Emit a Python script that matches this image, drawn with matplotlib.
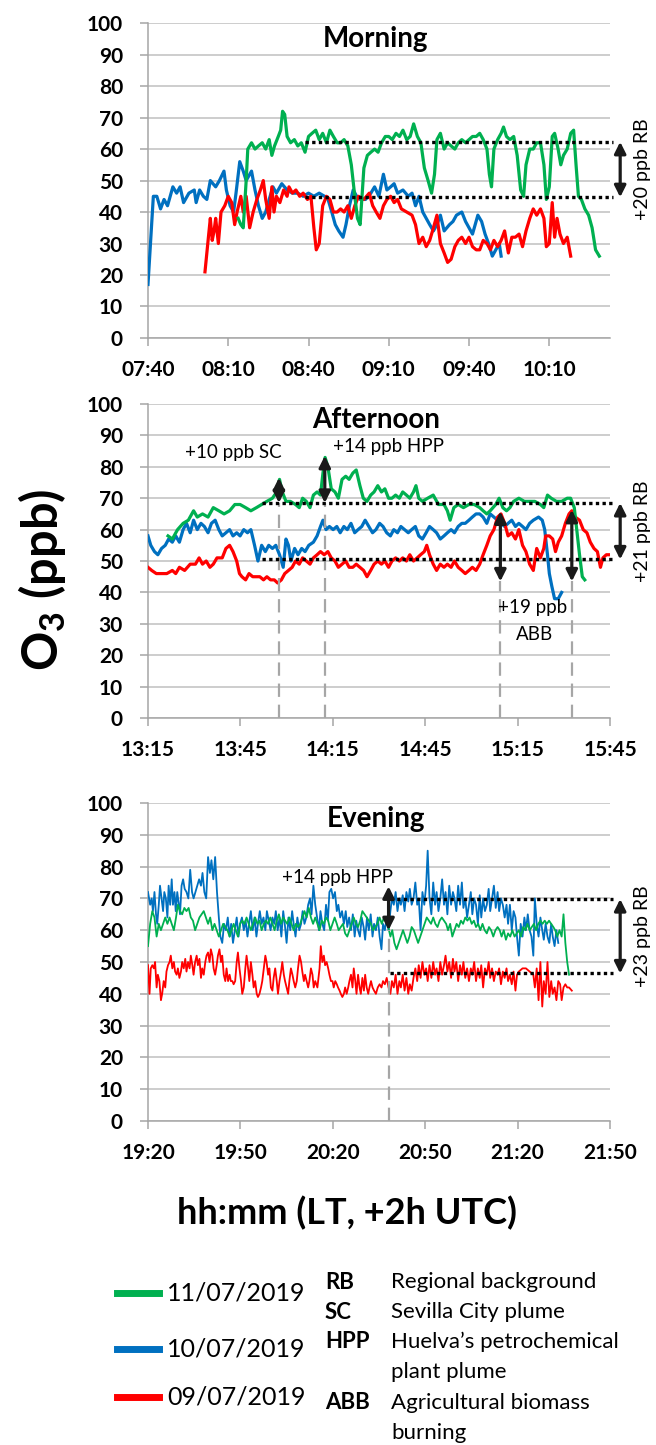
import matplotlib
matplotlib.use("Agg")
import matplotlib.pyplot as plt
from matplotlib import transforms
from matplotlib.lines import Line2D

plt.rcParams['font.family'] = ['Lato', 'DejaVu Sans']
plt.rcParams['mathtext.fontset'] = 'custom'
plt.rcParams['mathtext.rm'] = 'Lato'
plt.rcParams['mathtext.bf'] = 'Lato:bold'

GREEN = '#00B050'
BLUE = '#0070C0'
RED = '#FF0000'

# ---------------- Morning (minutes after 07:40) ----------------
mor_t_blue = [0, 2, 3.3, 4.7, 6, 7.3, 9.3, 10.7, 12, 13.3, 15.3, 17.3, 18, 19.3, 20.7, 22, 23.3, 25.3, 26.7, 28.4,
              29.3, 30.7, 32, 32.9, 34.3, 35.6, 36.7, 38.7, 40, 41.3, 42.7, 44, 45.3, 46.7, 48, 50, 52, 54, 56, 58,
              60, 62, 64, 66, 67.3, 68.7, 70, 71.3, 72.9, 74, 75.3, 76.7, 78, 79.3, 81.3, 83.3, 84.7, 86.3, 88, 89.3,
              90.7, 92, 93.3, 95.3, 97.3, 98.7, 100, 101.3, 102.7, 104, 105.3, 106.7, 108, 109.3, 110.7, 112.7, 114,
              115.3, 117.3, 118.7, 120, 121.3, 123.3, 124.7, 126, 127.3, 128.7, 130, 131.3, 132]
mor_o3_blue = [17, 45, 45, 41, 44, 42, 48, 46, 48, 43, 46, 47, 43, 47, 45, 44, 50, 48, 50, 53,
               47, 42, 40, 46, 56, 53, 50, 53, 47, 42, 38, 40, 44, 48, 46, 49, 47, 46, 46, 45,
               46, 45, 46, 45, 44, 40, 36, 34, 32, 36, 42, 47, 45, 44, 44, 46, 48, 45, 52, 47,
               48, 49, 46, 47, 45, 46, 42, 45, 40, 38, 36, 34, 36, 39, 34, 36, 37, 39, 40, 37,
               35, 33, 39, 37, 33, 30, 26, 28, 30, 26]

mor_t_red = [21.3, 22.7, 23.3, 24, 24.7, 25.3, 26.3, 27.3, 28.7, 30, 31.3, 32.4, 33.3, 34.7, 35.6, 36.7, 38, 39.3,
             40.7, 42, 43.1, 44, 45.3, 46.3, 47.1, 48, 49.3, 50.7, 52, 52.7, 54, 55.3, 56.7, 58, 59.6, 60.9, 62,
             62.9, 64, 65.3, 66.7, 68, 69.3, 70.7, 72, 73.3, 74.7, 76, 77.3, 78.7, 80.7, 82.7, 84, 85.3, 86.7, 88,
             89.3, 90.7, 92, 93.3, 94.7, 96.7, 98.7, 100, 101.3, 102.7, 104, 105.3, 106.7, 108, 109.3, 110.7, 112,
             113.3, 114.7, 116, 117.3, 118.7, 120, 121.3, 122.7, 124, 125.3, 126.7, 128, 129.3, 130.7, 132, 133.3,
             134.7, 136, 137.3, 138.7, 140, 141.3, 142.7, 144, 145.3, 146.7, 148, 148.9, 150, 151.1, 152, 152.9,
             154, 155.3, 156.7, 158]
mor_o3_red = [21, 33, 38, 31, 34, 38, 30, 40, 42, 45, 43, 36, 40, 45, 40, 45, 35, 40, 44, 47,
              50, 44, 38, 48, 40, 45, 43, 47, 45, 48, 46, 47, 45, 46, 44, 45, 35, 28, 30, 42,
              45, 44, 40, 40, 41, 40, 42, 38, 42, 45, 44, 46, 42, 40, 38, 42, 44, 45, 43, 44,
              41, 40, 39, 36, 30, 32, 29, 31, 35, 39, 30, 27, 24, 25, 29, 31, 32, 30, 32, 29,
              28, 28, 31, 30, 28, 31, 29, 31, 34, 27, 32, 32, 33, 29, 34, 38, 41, 39, 41, 38,
              29, 30, 43, 32, 38, 33, 30, 32, 26]

mor_t_green = [33.7, 34.7, 35.6, 36.7, 37.3, 38.7, 40, 41.3, 42.7, 44, 45.3, 46.3, 47.3, 48.7, 49.6, 50.3, 51.1, 52,
               53.3, 54.7, 56, 57.3, 58.7, 60, 61.3, 62.7, 64, 65.3, 66.7, 68, 69.3, 70.7, 72, 73.3, 74.7, 76, 77.3,
               78.3, 79.3, 80, 80.7, 82, 83.3, 84.7, 86, 87.3, 88.7, 90, 91.3, 92.7, 94, 95.3, 96.7, 98, 99.3, 100.7,
               102, 103.3, 104.7, 106, 107.1, 108, 109.3, 110.7, 112, 113.3, 114.7, 116, 117.3, 118.7, 120, 121.3,
               122.7, 124, 125.3, 126.7, 127.6, 128.4, 129.3, 130.7, 132, 132.9, 134, 135.3, 136.7, 138, 139.3,
               140.4, 141.3, 142.7, 144, 145.3, 146.7, 148, 148.9, 150, 151.1, 152, 153.3, 154.3, 155.3, 156.7, 158,
               159.1, 160, 160.9, 162, 163.3, 164.7, 166, 167.3, 168.7]
mor_o3_green = [38, 36, 35, 50, 60, 62, 60, 61, 62, 60, 63, 58, 61, 64, 66, 72, 71, 64, 62, 63,
                61, 62, 59, 64, 65, 66, 63, 65, 62, 66, 64, 62, 62, 63, 61, 55, 45, 38, 36, 45,
                54, 58, 59, 60, 59, 62, 64, 64, 63, 65, 64, 66, 63, 64, 68, 64, 62, 54, 50, 46,
                52, 63, 65, 60, 62, 61, 60, 62, 63, 62, 63, 64, 64, 65, 63, 60, 52, 48, 60, 63,
                65, 67, 64, 63, 64, 58, 47, 45, 55, 60, 60, 62, 62, 55, 44, 48, 64, 65, 60, 55,
                58, 60, 65, 66, 55, 45, 44, 41, 39, 35, 28, 26]

# ---------------- Afternoon (minutes after 13:15) ----------------
aft_t_green = [6.5, 7.9, 9.6, 11.4, 13.1, 14.8, 16, 17.7, 19.5, 21.2, 23, 24.7, 26.5, 28.2, 29.9, 31.7, 33.4, 35.2,
               36.9, 38.6, 40.4, 41.8, 42.7, 43.6, 44.8, 46.2, 47.9, 49.1, 50.2, 51.4, 52.6, 53.7, 54.9, 56, 56.8,
               57.5, 58.4, 59.5, 60.7, 61.8, 63, 64.2, 65.3, 66.5, 67.6, 68.8, 69.9, 71.1, 72.3, 73.4, 74.6, 75.8,
               76.9, 78.1, 79.2, 80.4, 81.6, 82.7, 83.9, 85, 86.2, 87, 87.9, 89.1, 90.8, 92.6, 94.3, 96.1, 97.2,
               98.1, 99.3, 100.7, 102.4, 104.2, 105.9, 107.7, 108.8, 110, 111.1, 112.9, 114, 115.2, 116.4, 117.5,
               118.7, 120.4, 122.2, 123.9, 125.6, 127.4, 128.5, 129.7, 130.9, 132.6, 134.3, 136.1, 137.2, 138.4,
               139.2, 140.1, 141, 141.8]
aft_o3_green = [58, 57, 60, 62, 63, 66, 64, 65, 64, 67, 66, 65, 66, 68, 68, 67, 66, 67, 68, 69,
                70, 72, 76, 72, 69, 69, 68, 67, 70, 69, 67, 71, 72, 71, 78, 83, 80, 73, 72, 70,
                76, 77, 76, 78, 79, 74, 70, 69, 71, 72, 74, 72, 73, 70, 70, 71, 70, 72, 71, 70,
                72, 74, 70, 69, 70, 71, 68, 68, 66, 63, 67, 68, 67, 68, 68, 67, 66, 65, 66, 68,
                70, 67, 66, 67, 69, 70, 69, 69, 69, 68, 67, 71, 70, 69, 69, 70, 70, 67, 60, 52,
                45, 44]

aft_t_blue = [0, 0.9, 2.1, 3.2, 4.4, 5.6, 6.7, 7.9, 9.0, 10.2, 11.4, 12.5, 13.7, 14.8, 16.0, 17.2, 18.3, 19.5,
              20.6, 21.8, 23.0, 24.1, 25.3, 26.5, 27.6, 28.8, 29.9, 31.1, 32.3, 33.4, 34.6, 35.7, 36.9, 38.1, 39.2,
              40.4, 41.5, 42.7, 43.9, 44.8, 45.6, 46.4, 47.6, 48.7, 49.9, 51.0, 52.2, 53.7, 54.9, 56.0, 56.8, 57.8,
              58.9, 60.1, 61.3, 62.4, 63.6, 64.7, 65.9, 67.1, 68.2, 69.4, 70.5, 71.7, 72.9, 74.0, 75.2, 76.3, 77.5,
              78.7, 79.8, 81.0, 82.1, 83.3, 84.5, 85.6, 86.8, 87.9, 89.1, 90.3, 91.4, 92.6, 93.7, 94.9, 96.1, 97.2,
              98.4, 99.5, 100.7, 101.9, 103.0, 104.2, 105.3, 106.5, 107.7, 108.8, 110.0, 111.1, 112.3, 113.5, 114.6,
              115.8, 116.9, 118.1, 119.3, 120.4, 121.6, 122.7, 123.9, 125.1, 126.8, 128.0, 128.8, 129.7, 130.3,
              131.1, 132.0, 133.2, 134.3]
aft_o3_blue = [58, 55, 53, 52, 54, 55, 57, 56, 58, 56, 60, 62, 59, 63, 60, 62, 61, 59, 62, 63,
               60, 58, 59, 60, 58, 59, 58, 60, 59, 60, 55, 50, 55, 53, 55, 54, 55, 52, 48, 57,
               55, 50, 54, 52, 54, 53, 55, 56, 58, 61, 63, 60, 61, 60, 61, 59, 61, 60, 62, 59,
               60, 61, 63, 61, 59, 60, 62, 61, 59, 58, 60, 59, 61, 60, 59, 60, 61, 58, 57, 59,
               61, 60, 59, 57, 58, 59, 60, 59, 61, 62, 62, 63, 64, 65, 65, 64, 62, 65, 64, 63,
               62, 61, 62, 63, 61, 62, 61, 60, 62, 63, 64, 63, 60, 52, 46, 42, 38, 38, 40]

aft_t_red = [0, 1.2, 2.7, 4.4, 6.1, 7.9, 9.0, 10.2, 11.9, 13.7, 15.4, 16.6, 17.7, 18.9, 20.1, 21.2, 22.4, 24.1,
             25.3, 26.5, 27.6, 28.8, 29.7, 30.5, 31.7, 32.8, 34.0, 35.2, 36.3, 37.5, 38.6, 39.8, 41.0, 42.1, 43.3,
             44.4, 45.6, 46.8, 47.9, 49.1, 50.2, 51.4, 52.6, 53.7, 54.9, 56.0, 57.2, 58.4, 59.5, 60.7, 61.8, 63.0,
             64.2, 65.3, 66.5, 67.6, 68.8, 70.0, 71.1, 72.3, 73.4, 74.6, 75.8, 76.9, 78.1, 79.2, 80.4, 81.6, 82.7,
             83.9, 85.0, 86.2, 87.4, 88.5, 89.7, 90.5, 91.4, 92.6, 93.7, 94.9, 96.1, 97.2, 98.4, 99.5, 100.7,
             101.9, 103.0, 104.2, 105.3, 106.5, 107.7, 108.8, 110.0, 111.1, 112.3, 113.5, 114.6, 115.8, 116.9,
             118.1, 119.3, 120.4, 121.6, 122.7, 123.9, 125.1, 126.2, 127.4, 128.5, 129.1, 130.3, 131.4, 132.3,
             133.2, 134.3, 135.5, 136.7, 137.6, 138.7, 140.1, 141.3, 142.5, 143.6, 144.8, 145.9, 146.9, 147.7,
             148.8, 150.0]
aft_o3_red = [48, 47, 46, 46, 46, 47, 46, 48, 47, 49, 49, 51, 49, 50, 48, 49, 51, 51, 54, 55,
              53, 50, 46, 45, 44, 46, 45, 45, 45, 44, 45, 44, 44, 43, 44, 46, 47, 48, 50, 49,
              51, 50, 49, 51, 52, 53, 52, 53, 51, 50, 48, 49, 50, 48, 48, 49, 48, 47, 45, 47,
              49, 50, 49, 50, 48, 50, 51, 50, 51, 50, 52, 50, 51, 52, 53, 55, 52, 49, 47, 49,
              48, 49, 48, 50, 48, 47, 46, 47, 48, 47, 49, 52, 55, 58, 60, 64, 65, 62, 58, 59,
              57, 60, 55, 53, 49, 47, 54, 51, 54, 58, 58, 57, 53, 56, 58, 62, 65, 66, 64, 63,
              60, 59, 56, 54, 53, 48, 51, 52, 52]

# ---------------- Evening (minutes after 19:20) ----------------
eve_t_blue = [0.0, 0.7, 1.2, 1.6, 2.1, 2.6, 3.0, 3.5, 3.9, 4.4, 4.9, 5.3, 5.8, 6.3, 6.7, 7.2, 7.7, 8.1, 8.6, 9.0,
              9.5, 10.0, 10.4, 10.9, 11.4, 11.9, 12.5, 13.1, 13.7, 14.3, 14.8, 15.4, 16.0, 16.6, 17.2, 17.7, 18.3,
              18.9, 19.5, 20.1, 20.6, 21.2, 21.8, 22.4, 23.0, 23.5, 24.1, 24.7, 25.3, 25.9, 26.5, 27.0, 27.6, 28.2,
              28.8, 29.4, 29.9, 30.5, 31.1, 31.7, 32.3, 32.8, 33.4, 34.0, 34.6, 35.2, 35.7, 36.3, 36.9, 37.5, 38.1,
              38.6, 39.2, 39.8, 40.4, 41.0, 41.5, 42.1, 42.7, 43.3, 43.9, 44.4, 45.0, 45.6, 46.2, 46.8, 47.3, 47.9,
              48.5, 49.1, 49.7, 50.2, 50.8, 51.4, 52.0, 52.6, 53.1, 53.7, 54.3, 54.9, 55.5, 56.0, 56.6, 57.2, 57.8,
              58.4, 58.9, 59.5, 60.1, 60.7, 61.3, 61.8, 62.4, 63.0, 63.6, 64.2, 64.7, 65.3, 65.9, 66.5, 67.1, 67.6,
              68.2, 68.8, 69.4, 70.0, 70.5, 71.1, 71.7, 72.3, 72.9, 73.4, 74.0, 74.6, 75.2, 75.8, 76.3, 76.9, 77.5,
              78.1, 78.7, 79.2, 79.8, 80.4, 81.0, 81.6, 82.1, 82.7, 83.3, 83.9, 84.5, 85.0, 85.6, 86.2, 86.8, 87.4,
              87.9, 88.5, 89.1, 89.7, 90.3, 90.8, 91.4, 92.0, 92.6, 93.2, 93.7, 94.3, 94.9, 95.5, 96.1, 96.6, 97.2,
              97.8, 98.4, 99.0, 99.5, 100.1, 100.7, 101.3, 101.9, 102.4, 103.0, 103.6, 104.2, 104.8, 105.3, 105.9,
              106.5, 107.1, 107.7, 108.2, 108.8, 109.4, 110.0, 110.6, 111.1, 111.7, 112.3, 112.9, 113.5, 114.0,
              114.6, 115.2, 115.8, 116.4, 116.9, 117.5, 118.1, 118.7, 119.3, 119.8, 120.4, 121.0, 121.6, 122.2,
              122.7, 123.3, 123.9, 124.5, 125.1, 125.6, 126.2, 126.8, 127.4, 128.0, 128.5, 129.1, 129.7, 130.3,
              130.9, 131.4, 132.0, 132.6, 133.2]
eve_o3_blue = [72, 68, 70, 66, 72, 65, 62, 68, 74, 70, 66, 72, 70, 64, 74, 68, 76, 68, 72, 66,
               72, 68, 65, 74, 76, 73, 72, 70, 79, 72, 70, 72, 74, 76, 74, 78, 72, 70, 83, 78,
               82, 76, 83, 72, 64, 58, 56, 62, 60, 64, 58, 62, 56, 60, 64, 58, 62, 64, 60, 63,
               58, 62, 66, 60, 64, 58, 62, 66, 62, 64, 60, 66, 63, 60, 64, 62, 66, 60, 64, 58,
               66, 62, 56, 64, 60, 66, 62, 58, 64, 60, 62, 66, 62, 64, 68, 70, 65, 74, 68, 64,
               60, 66, 62, 60, 68, 63, 72, 73, 70, 72, 66, 68, 64, 66, 62, 66, 61, 64, 60, 65,
               58, 63, 60, 58, 64, 61, 57, 64, 60, 65, 58, 62, 60, 64, 58, 54, 62, 60, 64, 60,
               66, 70, 68, 72, 66, 70, 68, 71, 66, 72, 69, 73, 68, 70, 75, 68, 70, 60, 72, 68,
               74, 85, 70, 65, 75, 68, 72, 66, 70, 76, 68, 72, 65, 74, 68, 72, 70, 66, 74, 68,
               75, 67, 70, 64, 68, 72, 65, 70, 68, 62, 71, 64, 70, 66, 68, 73, 66, 70, 74, 67,
               72, 66, 70, 68, 64, 68, 62, 68, 60, 66, 64, 58, 52, 62, 58, 64, 60, 65, 60, 58,
               52, 70, 62, 58, 64, 60, 57, 62, 58, 56, 62, 58, 55, 60, 56]

eve_t_green = [0.0, 0.7, 1.4, 2.1, 2.8, 3.5, 4.2, 4.9, 5.6, 6.3, 7.0, 7.7, 8.4, 9.1, 9.7, 10.4, 11.1, 11.8, 12.5,
               13.2, 13.9, 14.6, 15.3, 16.0, 16.7, 17.4, 18.1, 18.8, 19.5, 20.2, 20.9, 21.6, 22.3, 23.0, 23.7, 24.4,
               25.1, 25.8, 26.5, 27.1, 27.8, 28.5, 29.2, 29.9, 30.6, 31.3, 32.0, 32.7, 33.4, 34.1, 34.8, 35.5, 36.2,
               36.9, 37.6, 38.3, 39.0, 39.7, 40.4, 41.1, 41.8, 42.5, 43.2, 43.9, 44.5, 45.2, 45.9, 46.6, 47.3, 48.0,
               48.7, 49.4, 50.1, 50.8, 51.5, 52.2, 52.9, 53.6, 54.3, 55.0, 55.7, 56.4, 57.1, 57.8, 58.5, 59.2, 59.9,
               60.6, 61.3, 61.9, 62.6, 63.3, 64.0, 64.7, 65.4, 66.1, 66.8, 67.5, 68.2, 68.9, 69.6, 70.3, 71.0, 71.7,
               72.4, 73.1, 73.8, 74.5, 75.2, 75.9, 76.6, 77.3, 78.0, 78.7, 79.3, 80.0, 80.7, 81.4, 82.1, 82.8, 83.5,
               84.2, 84.9, 85.6, 86.3, 87.0, 87.7, 88.4, 89.1, 89.8, 90.5, 91.2, 91.9, 92.6, 93.3, 94.0, 94.7, 95.4,
               96.1, 96.8, 97.4, 98.1, 98.8, 99.5, 100.2, 100.9, 101.6, 102.3, 103.0, 103.7, 104.4, 105.1, 105.8,
               106.5, 107.2, 107.9, 108.6, 109.3, 110.0, 110.7, 111.4, 112.1, 112.8, 113.5, 114.2, 114.8, 115.5,
               116.2, 116.9, 117.6, 118.3, 119.0, 119.7, 120.4, 121.1, 121.8, 122.5, 123.2, 123.9, 124.6, 125.3,
               126.0, 126.7, 127.4, 128.1, 128.8, 129.5, 130.2, 130.9, 131.6, 132.2, 132.9, 133.6, 134.3, 134.9,
               135.5, 136.1, 136.7]
eve_o3_green = [55, 62, 66, 64, 58, 62, 60, 62, 64, 62, 64, 62, 60, 64, 68, 66, 65, 67, 66, 67,
                64, 63, 60, 62, 64, 65, 66, 64, 62, 64, 60, 62, 60, 58, 60, 62, 61, 60, 58, 60,
                62, 60, 58, 62, 63, 62, 64, 62, 60, 62, 64, 62, 63, 60, 62, 63, 62, 64, 62, 60,
                63, 65, 62, 64, 63, 62, 64, 62, 60, 62, 61, 62, 64, 66, 64, 67, 64, 62, 64, 62,
                60, 63, 62, 64, 63, 60, 62, 64, 62, 60, 61, 62, 59, 58, 60, 62, 64, 62, 61, 63,
                66, 65, 64, 63, 62, 60, 61, 62, 64, 62, 64, 63, 61, 58, 60, 56, 54, 56, 58, 60,
                58, 56, 58, 61, 60, 58, 56, 58, 60, 62, 64, 63, 62, 64, 62, 61, 63, 64, 63, 62,
                60, 62, 58, 60, 62, 61, 63, 62, 64, 63, 64, 62, 63, 61, 62, 60, 62, 60, 59, 61,
                60, 58, 60, 61, 60, 58, 60, 57, 59, 58, 60, 58, 59, 60, 58, 61, 60, 62, 60, 61,
                62, 60, 62, 63, 62, 63, 62, 63, 62, 61, 60, 58, 60, 58, 65, 56, 50, 46]

eve_t_red = [0.0, 0.5, 0.9, 1.4, 1.9, 2.3, 2.8, 3.2, 3.7, 4.2, 4.6, 5.1, 5.6, 6.0, 6.5, 7.0, 7.4, 7.9, 8.4, 8.8,
             9.3, 9.7, 10.2, 10.7, 11.1, 11.6, 12.1, 12.5, 13.0, 13.5, 13.9, 14.4, 14.8, 15.3, 15.8, 16.2, 16.7,
             17.2, 17.6, 18.1, 18.6, 19.0, 19.5, 20.0, 20.4, 20.9, 21.3, 21.8, 22.3, 22.7, 23.2, 23.7, 24.1, 24.6,
             25.1, 25.5, 26.0, 26.5, 26.9, 27.4, 27.8, 28.3, 28.8, 29.2, 29.7, 30.2, 30.6, 31.1, 31.6, 32.0, 32.5,
             32.9, 33.4, 33.9, 34.3, 34.8, 35.3, 35.7, 36.2, 36.7, 37.1, 37.6, 38.1, 38.5, 39.0, 39.4, 39.9, 40.4,
             40.8, 41.3, 41.8, 42.2, 42.7, 43.2, 43.6, 44.1, 44.5, 45.0, 45.5, 45.9, 46.4, 46.9, 47.3, 47.8, 48.3,
             48.7, 49.2, 49.7, 50.1, 50.6, 51.0, 51.5, 52.0, 52.4, 52.9, 53.4, 53.8, 54.3, 55.0, 55.7, 56.1, 56.6,
             57.1, 57.5, 58.0, 58.5, 58.9, 59.4, 59.9, 60.3, 60.8, 61.3, 61.7, 62.2, 62.6, 63.1, 63.6, 64.0, 64.5,
             65.0, 65.4, 65.9, 66.4, 66.8, 67.3, 67.7, 68.2, 68.7, 69.1, 69.6, 70.1, 70.5, 71.0, 71.5, 71.9, 72.4,
             72.9, 73.4, 74.0, 74.6, 75.2, 75.8, 76.3, 76.9, 77.5, 78.1, 78.7, 79.2, 79.8, 80.4, 81.0, 81.6, 82.1,
             82.7, 83.3, 83.9, 84.5, 85.0, 85.6, 86.2, 86.8, 87.4, 87.9, 88.5, 89.1, 89.7, 90.3, 90.8, 91.4, 92.0,
             92.6, 93.2, 93.7, 94.3, 94.9, 95.5, 96.1, 96.6, 97.2, 97.8, 98.4, 99.0, 99.5, 100.1, 100.7, 101.3,
             101.9, 102.4, 103.0, 103.6, 104.2, 104.8, 105.3, 105.9, 106.5, 107.1, 107.7, 108.2, 108.8, 109.4,
             110.0, 110.6, 111.1, 111.7, 112.3, 112.9, 113.5, 114.0, 114.6, 115.2, 115.8, 116.4, 116.9, 117.5,
             118.1, 118.7, 119.3, 119.8, 120.4, 121.6, 122.7, 123.9, 125.1, 125.6, 126.2, 126.8, 127.4, 128.0,
             128.5, 129.1, 129.7, 130.3, 130.9, 131.4, 132.0, 132.6, 133.2, 133.8, 134.3, 134.9, 135.5, 136.1,
             136.7, 137.6]
eve_o3_red = [49, 40, 48, 49, 48, 50, 42, 46, 44, 38, 40, 44, 42, 47, 49, 50, 52, 48, 50, 47,
              46, 48, 45, 47, 50, 48, 51, 47, 50, 48, 52, 49, 46, 50, 52, 49, 51, 45, 48, 46,
              50, 52, 53, 50, 54, 52, 48, 46, 49, 52, 54, 50, 52, 46, 44, 48, 44, 46, 44, 44,
              43, 44, 50, 53, 48, 44, 40, 42, 48, 52, 48, 44, 50, 46, 42, 44, 40, 39, 40, 42,
              44, 48, 52, 50, 46, 48, 42, 41, 45, 48, 44, 40, 44, 47, 50, 46, 44, 42, 40, 44,
              48, 46, 44, 42, 44, 48, 52, 50, 47, 44, 46, 44, 42, 44, 48, 46, 42, 44,
              42, 48,
              55, 50, 52, 49, 50, 48, 46, 44, 44, 42, 44, 43, 42, 41, 40, 39, 40, 42, 40, 42,
              44, 46, 42, 48, 44, 40, 46, 42, 40, 45, 41, 46, 42, 40, 42, 44, 42,
              41, 40, 42, 43, 42, 44, 43, 45, 42, 40, 44, 42, 46, 40, 44, 42, 46, 41, 45, 40,
              43, 41, 45, 48, 44, 49, 45, 50, 46, 48, 44, 49, 45, 50, 46, 48, 44, 50, 46, 49,
              52, 47, 50, 45, 51, 47, 50, 44, 49, 46, 50, 45, 48, 44, 48, 46, 50, 44, 48, 45,
              49, 42, 48, 46, 50, 45, 48, 44, 47, 46, 48, 43, 47, 45, 48, 44, 46, 43, 47, 41,
              46,
              47, 48, 48, 47, 46,
              42, 48, 38, 50, 36, 44, 40, 50, 39, 44, 40, 42, 38, 44, 43, 38, 42, 43, 42, 42,
              41]

# ---------------- axes / labels ----------------
tick_minutes = [0, 30, 60, 90, 120, 150]
mor_ticklabels = ['07:40', '08:10', '08:40', '09:10', '09:40', '10:10']
aft_ticklabels = ['13:15', '13:45', '14:15', '14:45', '15:15', '15:45']
eve_ticklabels = ['19:20', '19:50', '20:20', '20:50', '21:20', '21:50']
panel_titles = ['Morning', 'Afternoon', 'Evening']
panel_xmax = [172.7, 150, 150]

# regional background band: (start minute, upper ppb, lower ppb, label)
mor_rb = (58.7, 62.3, 44.7, '+20 ppb RB')
aft_rb = (36.9, 68.5, 50.5, '+21 ppb RB')
eve_rb = (78.7, 69.8, 46.4, '+23 ppb RB')

# plume events: (minute, arrow bottom, arrow top, dashed line top)
aft_events = [(42.5, 68.5, 76.5, 68.5), (57.4, 68.5, 83.5, 68.5),
              (114.4, 43.5, 65.8, 43.5), (137.6, 43.5, 66.3, 43.5)]
eve_events = [(78.1, 60.0, 73.8, 60.0)]
# event labels: (text, minute, ppb, horizontal alignment)
aft_labels = [('+10 ppb SC', 27.6, 84.5, 'center'), ('+14 ppb HPP', 60.1, 86.5, 'left'),
              ('+19 ppb', 124.7, 35.2, 'center'), ('ABB', 125.6, 26.5, 'center')]
eve_labels = [('+14 ppb HPP', 79.6, 76.6, 'right')]

legend_dates = ['11/07/2019', '10/07/2019', '09/07/2019']
legend_colors = [GREEN, BLUE, RED]
abbrev_keys = ['RB', 'SC', 'HPP', '', 'ABB', '']
abbrev_text = ['Regional background', 'Sevilla City plume', "Huelva\u2019s petrochemical",
               'plant plume', 'Agricultural biomass', 'burning']

fig = plt.figure(figsize=(6.56, 14.45), dpi=100)
L, W = 0.2256, 0.7043
ax_m = fig.add_axes([L, 0.7661, W, 0.2179])
ax_a = fig.add_axes([L, 0.5031, W, 0.2173])
ax_e = fig.add_axes([L, 0.2242, W, 0.2201])
axes = [ax_m, ax_a, ax_e]

GRID = '#C0C0C0'
SPINE = '#A6A6A6'


def style(ax, xmax, labels, title):
    ax.set_xlim(0, xmax)
    ax.set_ylim(0, 100)
    ax.set_yticks(range(0, 101, 10))
    ax.set_xticks(tick_minutes)
    ax.set_xticklabels(labels)
    ax.grid(axis='y', color=GRID, lw=1.1)
    ax.set_axisbelow(True)
    for s in ['top', 'right']:
        ax.spines[s].set_visible(False)
    for s in ['left', 'bottom']:
        ax.spines[s].set_color(SPINE)
        ax.spines[s].set_linewidth(1.1)
    ax.tick_params(axis='both', direction='out', length=6, width=1.1, color=SPINE,
                   labelsize=15)
    ax.tick_params(axis='y', pad=12)
    ax.tick_params(axis='x', pad=10)
    for lab in ax.get_xticklabels() + ax.get_yticklabels():
        lab.set_fontweight('bold')
    tr = transforms.blended_transform_factory(ax.transAxes, ax.transData)
    ax.text(0.493, 95, title, transform=tr, ha='center', va='center',
            fontsize=20, fontweight='bold')


ARROW = dict(arrowstyle='<|-|>', color='#1A1A1A', lw=2.3, mutation_scale=17,
             shrinkA=0, shrinkB=0)


def rb_band(ax, rb):
    start, up, lo, label = rb
    xmax = ax.get_xlim()[1]
    tr = transforms.blended_transform_factory(ax.transAxes, ax.transData)
    for y in (up, lo):
        ax.plot([start, xmax * 1.006], [y, y], color='black', lw=2.4,
                linestyle=(0, (1, 1)), dash_capstyle='butt', clip_on=False, zorder=6)
    ax.annotate('', xy=(1.022, up), xytext=(1.022, lo), xycoords=tr, textcoords=tr,
                arrowprops=ARROW, annotation_clip=False, zorder=7)
    ax.text(1.071, (up + lo) / 2, label, transform=tr, rotation=90, ha='center',
            va='center', fontsize=14)


def events(ax, evs, labs):
    for x, lo, hi, top in evs:
        ax.plot([x, x], [0, top], color='#A6A6A6', lw=1.6, linestyle=(0, (6, 3.5)), zorder=5)
        ax.annotate('', xy=(x, hi), xytext=(x, lo), arrowprops=ARROW, zorder=7)
    for txt, x, y, ha in labs:
        ax.text(x, y, txt, ha=ha, va='center', fontsize=13.5, zorder=8)


lw_main = 2.3
ax_m.plot(mor_t_blue, mor_o3_blue, color=BLUE, lw=lw_main, zorder=3)
ax_m.plot(mor_t_red, mor_o3_red, color=RED, lw=lw_main, zorder=3)
ax_m.plot(mor_t_green, mor_o3_green, color=GREEN, lw=lw_main, zorder=4)

ax_a.plot(aft_t_blue, aft_o3_blue, color=BLUE, lw=lw_main, zorder=3)
ax_a.plot(aft_t_red, aft_o3_red, color=RED, lw=lw_main, zorder=3)
ax_a.plot(aft_t_green, aft_o3_green, color=GREEN, lw=lw_main, zorder=4)

lw_eve = 1.3
ax_e.plot(eve_t_blue, eve_o3_blue, color=BLUE, lw=lw_eve, zorder=3)
ax_e.plot(eve_t_red, eve_o3_red, color=RED, lw=lw_eve, zorder=3)
ax_e.plot(eve_t_green, eve_o3_green, color=GREEN, lw=lw_eve, zorder=4)

for ax, xmax, labels, title in zip(axes, panel_xmax,
                                   [mor_ticklabels, aft_ticklabels, eve_ticklabels],
                                   panel_titles):
    style(ax, xmax, labels, title)

rb_band(ax_m, mor_rb)
rb_band(ax_a, aft_rb)
rb_band(ax_e, eve_rb)
events(ax_a, aft_events, aft_labels)
events(ax_e, eve_events, eve_labels)

fig.text(0.064, 0.599, r'$\mathbf{O_3}$ (ppb)', rotation=90, ha='center', va='center',
         fontsize=35, fontweight='bold')
fig.text(0.529, 0.1606, 'hh:mm (LT, +2h UTC)', ha='center', va='center',
         fontsize=26, fontweight='bold')

# legend
leg_y = [0.1052, 0.0664, 0.0332]
for y, c, d in zip(leg_y, legend_colors, legend_dates):
    fig.add_artist(Line2D([0.178, 0.242], [y, y], color=c, lw=5, transform=fig.transFigure))
    fig.text(0.2546, y, d, ha='left', va='center', fontsize=18)
abbr_y = [0.1128, 0.0920, 0.0713, 0.0505, 0.0291, 0.0083]
for y, k, t in zip(abbr_y, abbrev_keys, abbrev_text):
    if k:
        fig.text(0.4954, y, k, ha='left', va='center', fontsize=16, fontweight='bold')
    fig.text(0.596, y, t, ha='left', va='center', fontsize=16)

fig.savefig('out.png', dpi=100)
